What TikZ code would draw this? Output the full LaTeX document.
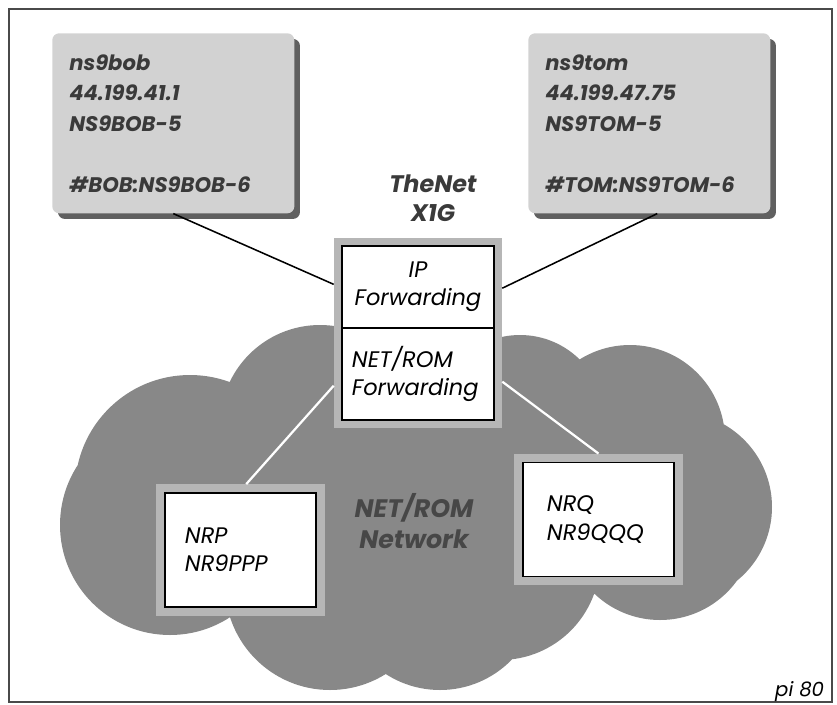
\documentclass[tikz,border=0pt]{standalone}
\usepackage{fontspec}
\setmainfont{Poppins}
\usetikzlibrary{positioning, fit, backgrounds, shadows}
\definecolor{PIink}{HTML}{3A3A3A}
\definecolor{PIbox}{HTML}{D2D2D2}
\definecolor{PIedge}{HTML}{606060}
\definecolor{PIcloud}{HTML}{888888}
\definecolor{PIhalo}{HTML}{B6B6B6}
\definecolor{PIframe}{HTML}{4A4A4A}
\tikzset{
  hostbox/.style={
    rectangle, rounded corners=5pt, fill=PIbox, text=PIink, align=left,
    text width=5.2cm, inner xsep=0.425cm, minimum height=4.5cm, anchor=north west,
    font=\fontsize{15}{21.7}\selectfont\bfseries\itshape,
    drop shadow={shadow xshift=4pt, shadow yshift=-4pt, fill=PIedge, opacity=1}},
  fwdbox/.style={
    rectangle, draw=black, line width=0.9pt, fill=white, outer sep=0pt,
    minimum width=3.8cm, text width=3.3cm, inner xsep=0.25cm,
    font=\fontsize{16}{20}\selectfont\itshape},
  nodebox/.style={
    rectangle, draw=black, line width=0.9pt, fill=white, align=left,
    minimum height=2.85cm, font=\fontsize{16}{20}\selectfont\itshape},
  halo/.style={rectangle, fill=PIhalo, inner sep=0.2cm},
  title/.style={text=PIink, align=center, font=\fontsize{17}{21}\selectfont\bfseries\itshape},
  link/.style={draw=black, line width=1.1pt},
  cut/.style={draw=white, line width=1.6pt},
}
\begin{document}
\begin{tikzpicture}[x=0.025cm, y=-0.025cm]
  \useasboundingbox (0,0) rectangle (837,705);
  \draw[PIframe, line width=1pt] (9,9) rectangle (832,702);
  %% Hosts
  \node[hostbox] (bob) at (52,33)
        {ns9bob\\44.199.41.1\\NS9BOB-5\\[21.7pt]\#BOB:NS9BOB-6};
  \node[hostbox] (tom) at (528,33)
        {ns9tom\\44.199.47.75\\NS9TOM-5\\[21.7pt]\#TOM:NS9TOM-6};
  %% TheNet switch
  \node[title] (thenet) at (433,198) {TheNet\\X1G};
  \node[fwdbox, align=center, minimum height=2.05cm] (ipfwd) at (418,287)
        {IP\\Forwarding};
  \node[fwdbox, align=left, minimum height=2.3cm, below=0pt of ipfwd] (nrfwd)
        {NET/ROM\\Forwarding};
  %% NET/ROM nodes
  \node[nodebox, minimum width=3.775cm, text width=2.775cm, inner xsep=0.5cm] (nrp)
        at (240.5,550) {NRP\\NR9PPP\\[8pt]};
  \node[nodebox, minimum width=3.775cm, text width=2.575cm, inner xsep=0.6cm] (nrq)
        at (598.5,519.5) {NRQ\\NR9QQQ};
  \node[title, text=black!72, font=\fontsize{18}{22}\selectfont\bfseries\itshape] (net)
        at (414,521) {NET/ROM\\Network};
  %% Cloud and halos
  \begin{scope}[on background layer]
    \fill[PIcloud] (170,525) circle (110) (190,490) circle (115) (320,425) circle (100)
      (520,420) circle (85) (630,440) circle (95) (677,507) circle (95)
      (660,525) circle (95) (500,560) circle (100) (330,585) circle (105)
      (440,590) circle (100) (420,480) circle (130);
    \node[halo, fit=(ipfwd)(nrfwd)] (fwdhalo) {};
    \node[halo, fit=(nrp)] (nrphalo) {};
    \node[halo, fit=(nrq)] (nrqhalo) {};
  \end{scope}
  %% Links
  \draw[link] (bob.south) -- (fwdhalo.150);
  \draw[link] (tom.-85) -- (fwdhalo.28);
  \draw[cut] (fwdhalo.212) -- (nrphalo.85);
  \draw[cut] (fwdhalo.-30) -- (nrqhalo.north);
  \node[font=\fontsize{14}{16}\selectfont\itshape, anchor=east] (tag) at (829,692) {pi 80};
\end{tikzpicture}
\end{document}
